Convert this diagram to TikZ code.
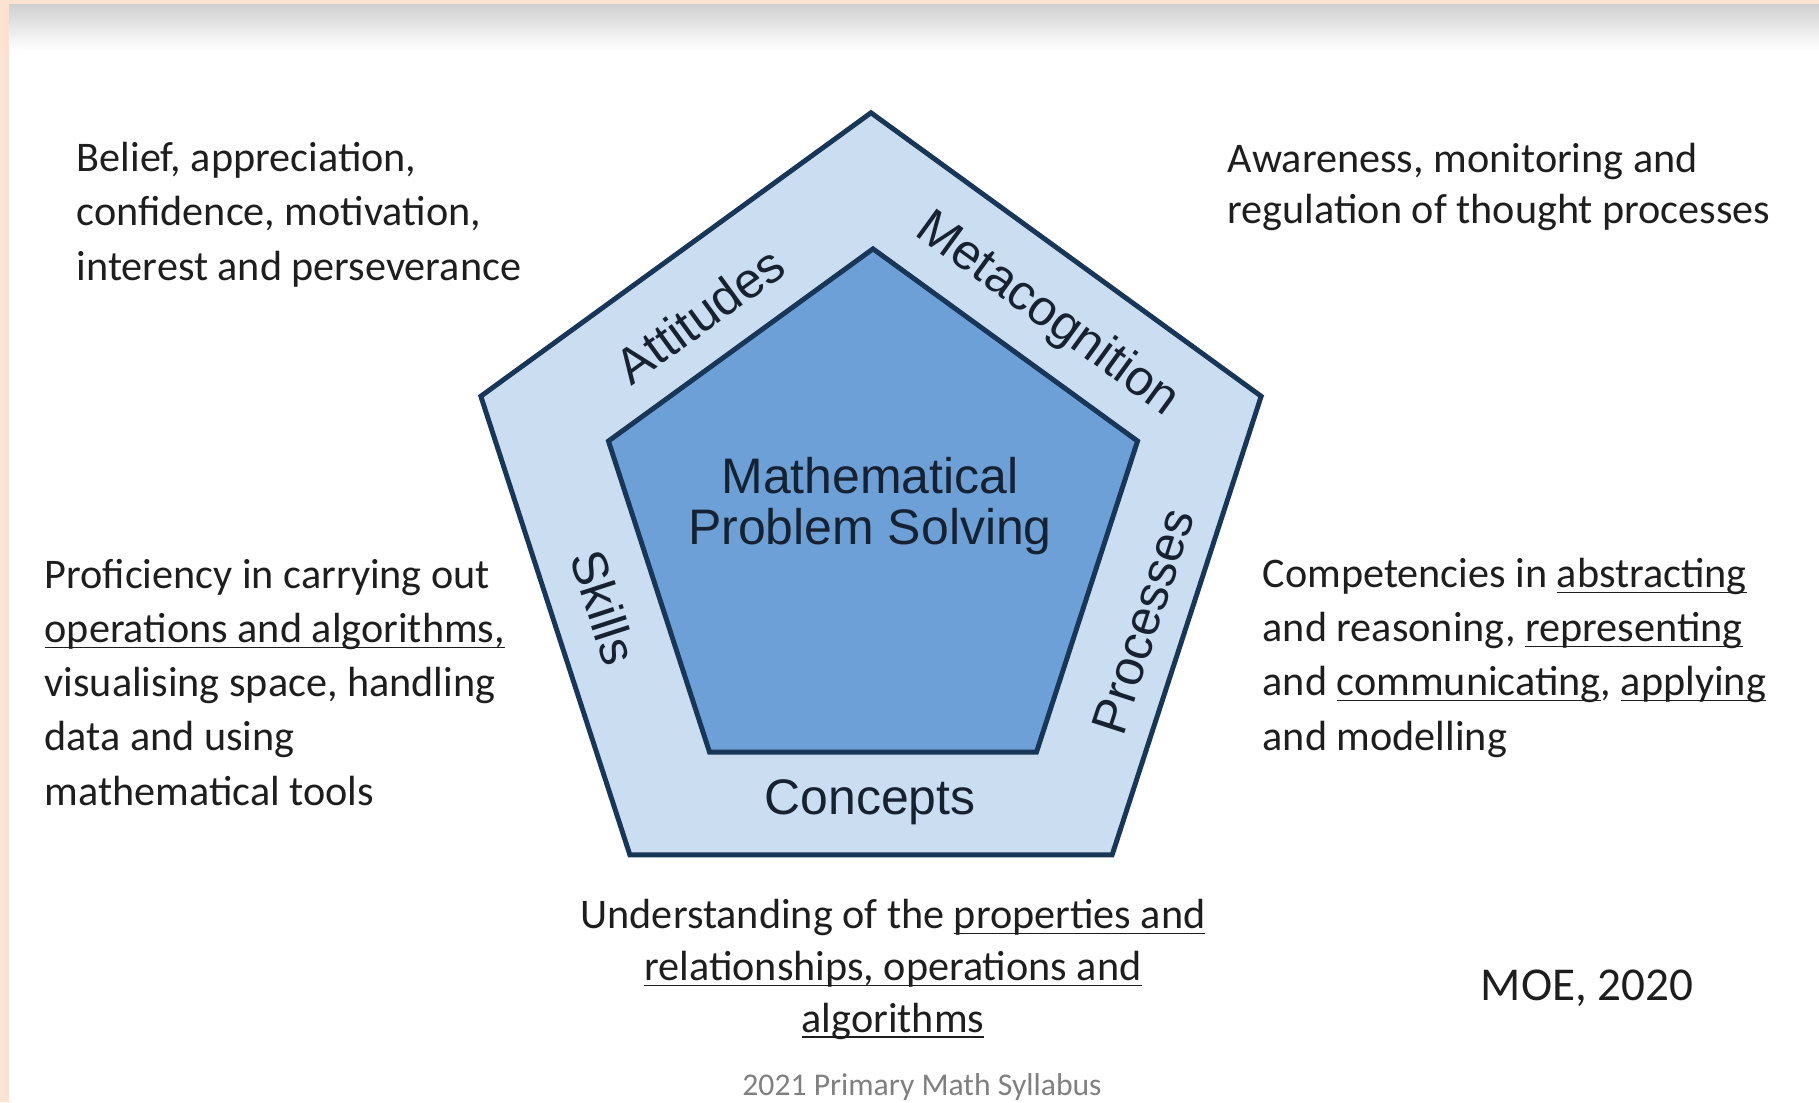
\documentclass[tikz,border=0pt]{standalone}
\usepackage{fontspec}
\setmainfont{Carlito}
\newfontfamily\arialfont{Liberation Sans}
\usetikzlibrary{shapes.geometric}
\newcommand*{\undl}[1]{\underline{\smash{#1}}}
\definecolor{peach}{RGB}{252,226,208}
\definecolor{topgray}{RGB}{208,208,208}
\definecolor{bandblue}{RGB}{203,222,241}
\definecolor{coreblue}{RGB}{108,160,214}
\definecolor{edgeblue}{RGB}{24,54,88}
\definecolor{labelink}{RGB}{22,34,50}
\definecolor{txtink}{RGB}{30,30,30}
\definecolor{srcgray}{RGB}{128,128,128}
\tikzset{
  pentagon/.style={regular polygon, regular polygon sides=5, draw=edgeblue, line width=1.4pt, inner sep=0pt},
  bandlabel/.style={font=\arialfont\fontsize{14.2}{14.5}\selectfont, text=labelink, inner sep=0pt},
  desc/.style={font=\fontsize{12}{15.4}\selectfont, text=txtink, align=left, inner sep=0pt, anchor=base west}
}

\begin{document}
\begin{tikzpicture}[x=0.01cm, y=-0.01cm]
    \useasboundingbox(0, 0) rectangle (1819, 1102);
    \fill[white](0, 0) rectangle (1819, 1102);
    \fill[peach](0, 0) rectangle (9, 1102);
    \fill[peach](0, 0) rectangle (1819, 4);
    \shade[top color=topgray, bottom color=white](9, 4) rectangle (1819, 50);
    \node[pentagon, fill=bandblue, minimum size=8.2cm](outer) at (871, 523){};
    \node[pentagon, fill=coreblue, minimum size=5.56cm](core) at (873, 527){};
    \node[bandlabel, rotate=36](attitudes) at (700, 315){Attitudes};			%a
    \node[bandlabel, rotate=-36](metacog) at (1047, 315){Metacognition};		%m
    \node[bandlabel, rotate=72](processes) at (1143, 621){Processes};			%p
    \node[bandlabel, rotate=-72](skills) at (604, 607){Skills};				%s
    \node[bandlabel](concepts) at (870, 802){Concepts};					%c
    \node[bandlabel, align=center](mps) at (870, 506){Mathematical\\Problem Solving};
    % last-line baselines
    \node[desc](beliefs) at (76, 280){Belief, appreciation,\\confidence, motivation,\\interest and perseverance};
    \node[desc, font=\fontsize{12}{14.5}\selectfont](awareness) at (1227, 223){Awareness, monitoring and\\regulation of thought processes};
    \node[desc](proficiency) at (44, 805){Proficiency in carrying out\\\undl{operations and algorithms,}\\visualising space, handling\\data and using\\mathematical tools};
    \node[desc](competencies) at (1262, 750){Competencies in \undl{abstracting}\\and reasoning, \undl{representing}\\and \undl{communicating}, \undl{applying}\\and modelling};
    \node[desc, align=center, anchor=base, font=\fontsize{12}{14.7}\selectfont](understanding) at (893, 1032){Understanding of the \undl{properties and}\\\undl{relationships, operations and}\\\undl{algorithms}};
    \node[desc, font=\fontsize{13.4}{16}\selectfont](moe) at (1480, 1000){MOE, 2020};
    \node[desc, anchor=base, text=srcgray, font=\fontsize{9}{11}\selectfont](syllabus) at (922, 1095){2021 Primary Math Syllabus};
\end{tikzpicture}
\end{document}
